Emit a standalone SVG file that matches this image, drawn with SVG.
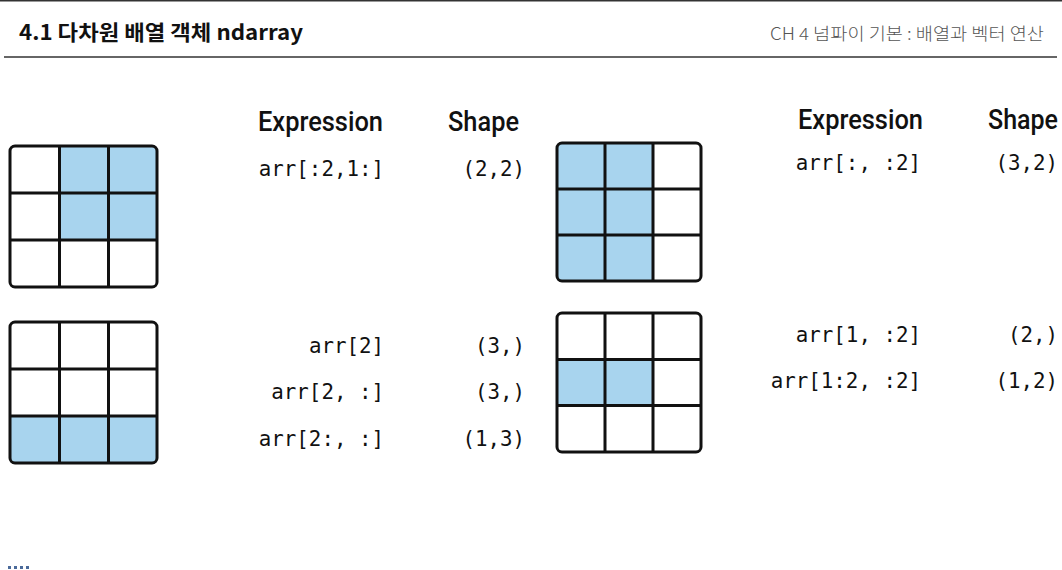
<svg xmlns="http://www.w3.org/2000/svg" width="1062" height="570" viewBox="0 0 1062 570">
<style>
.title{font-family:"Noto Sans CJK KR","Noto Sans",sans-serif;font-weight:700;font-size:21px;fill:#111}
.sub{font-family:"Noto Sans CJK KR","Noto Sans",sans-serif;font-weight:300;font-size:17px;fill:#555}
.hd{font-family:"Roboto","Liberation Sans",sans-serif;font-weight:500;font-size:27px;fill:#111}
.code{font-family:"DejaVu Sans Mono","Liberation Mono",monospace;font-size:20.8px;fill:#111;text-anchor:end}
.on{fill:#a8d4ee}
.ln{stroke:#111;stroke-width:3;fill:none}
.frame{stroke:#111;stroke-width:3;fill:none}
</style>
<defs>
<clipPath id="c1"><rect x="10" y="146" width="147" height="141" rx="5"/></clipPath>
<clipPath id="c2"><rect x="557" y="143" width="144" height="138" rx="5"/></clipPath>
<clipPath id="c3"><rect x="10" y="322" width="147" height="141" rx="5"/></clipPath>
<clipPath id="c4"><rect x="557" y="313" width="144" height="139" rx="5"/></clipPath>
</defs>
<rect width="1062" height="570" fill="#fff"/>
<g id="header">
<line x1="0" y1="0.5" x2="1062" y2="0.5" stroke="#333" stroke-width="2"/>
<text class="title" x="19" y="40" textLength="284" lengthAdjust="spacingAndGlyphs">4.1 다차원 배열 객체 ndarray</text>
<text class="sub" x="770" y="40" textLength="274" lengthAdjust="spacingAndGlyphs">CH 4 넘파이 기본 : 배열과 벡터 연산</text>
<line x1="4" y1="57" x2="1057" y2="57" stroke="#666" stroke-width="2"/>
</g>
<g id="grid1">
<g clip-path="url(#c1)">
<rect class="on" x="59" y="146" width="98" height="94"/>
</g>
<path class="ln" d="M59.5 146V287M108.5 146V287M10 193H157M10 240H157"/>
<rect class="frame" x="10" y="146" width="147" height="141" rx="5"/>
</g>
<g id="grid2">
<g clip-path="url(#c2)">
<rect class="on" x="557" y="143" width="96" height="138"/>
</g>
<path class="ln" d="M605 143V281M653 143V281M557 189H701M557 235H701"/>
<rect class="frame" x="557" y="143" width="144" height="138" rx="5"/>
</g>
<g id="grid3">
<g clip-path="url(#c3)">
<rect class="on" x="10" y="416" width="147" height="47"/>
</g>
<path class="ln" d="M59.5 322V463M108.5 322V463M10 369H157M10 416H157"/>
<rect class="frame" x="10" y="322" width="147" height="141" rx="5"/>
</g>
<g id="grid4">
<g clip-path="url(#c4)">
<rect class="on" x="557" y="359" width="96" height="46"/>
</g>
<path class="ln" d="M605 313V452M653 313V452M557 359.5H701M557 405.5H701"/>
<rect class="frame" x="557" y="313" width="144" height="139" rx="5"/>
</g>
<g id="table1">
<text class="hd" x="258" y="131" textLength="125" lengthAdjust="spacingAndGlyphs">Expression</text>
<text class="hd" x="448" y="131" textLength="71" lengthAdjust="spacingAndGlyphs">Shape</text>
<text class="code" x="384" y="176">arr[:2,1:]</text>
<text class="code" x="525" y="176">(2,2)</text>
</g>
<g id="table2">
<text class="hd" x="798" y="129" textLength="125" lengthAdjust="spacingAndGlyphs">Expression</text>
<text class="hd" x="988" y="129" textLength="70" lengthAdjust="spacingAndGlyphs">Shape</text>
<text class="code" x="921" y="170">arr[:, :2]</text>
<text class="code" x="1058" y="170">(3,2)</text>
</g>
<g id="table3">
<text class="code" x="384" y="353">arr[2]</text>
<text class="code" x="525" y="353">(3,)</text>
<text class="code" x="384" y="399">arr[2, :]</text>
<text class="code" x="525" y="399">(3,)</text>
<text class="code" x="384" y="446">arr[2:, :]</text>
<text class="code" x="525" y="446">(1,3)</text>
</g>
<g id="table4">
<text class="code" x="921" y="342">arr[1, :2]</text>
<text class="code" x="1058" y="342">(2,)</text>
<text class="code" x="921" y="388">arr[1:2, :2]</text>
<text class="code" x="1058" y="388">(1,2)</text>
</g>
<g id="footer" fill="#4a6a9a">
<rect x="8" y="566" width="3" height="3"/>
<rect x="14" y="566" width="3" height="3"/>
<rect x="20" y="566" width="3" height="3"/>
<rect x="26" y="566" width="3" height="3"/>
</g>
</svg>
